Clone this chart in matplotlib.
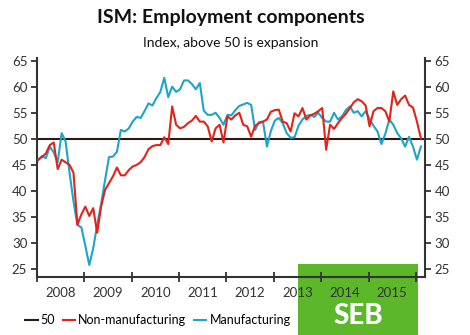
import matplotlib
matplotlib.use("Agg")
import matplotlib.pyplot as plt
from matplotlib.patches import Rectangle
from matplotlib.lines import Line2D
import numpy as np

plt.rcParams['font.family'] = ['Lato', 'DejaVu Sans']

start_year = 2008.02
non_manufacturing = [
    46.0, 46.5, 47.2, 48.8, 49.3, 44.2, 46.0, 45.5, 45.0, 43.5,
    33.5, 35.5, 37.0, 35.2, 36.7, 32.0, 37.0, 40.2, 41.5, 42.8,
    44.5, 43.0, 43.0, 44.0, 44.7, 45.0, 45.5, 46.5, 48.0, 48.6,
    48.8, 48.8, 50.3, 49.0, 56.2, 52.7, 52.0, 52.3, 53.0, 53.5,
    54.4, 53.3, 53.3, 52.4, 49.5, 52.0, 52.7, 49.3, 54.3, 53.7,
    54.5, 55.0, 52.7, 52.4, 50.4, 52.5, 53.0, 53.3, 53.7, 55.2,
    55.5, 55.6, 53.3, 53.0, 51.4, 54.9, 54.3, 55.9, 53.7, 54.5,
    54.8, 55.3, 55.9, 47.9, 52.7, 51.9, 53.0, 54.0, 54.8, 55.9,
    57.0, 57.6, 57.2, 56.4, 52.4, 55.3, 55.9, 55.9, 55.3, 53.3,
    59.1, 56.5, 57.6, 58.3, 56.5, 56.0, 53.3, 50.1,
]
manufacturing = [
    45.8, 46.7, 46.3, 48.5, 47.4, 45.5, 51.1, 49.5, 43.5, 38.0,
    33.5, 33.0, 29.5, 25.8, 29.0, 33.5, 37.5, 42.1, 46.5, 46.6,
    47.5, 51.7, 51.4, 52.0, 53.3, 54.2, 54.0, 55.3, 56.8, 56.4,
    57.8, 59.0, 61.7, 58.0, 60.0, 59.0, 59.5, 61.2, 61.2, 60.5,
    59.5, 60.7, 55.4, 54.6, 54.6, 55.0, 54.0, 52.7, 54.6, 54.5,
    55.5, 56.3, 56.6, 56.9, 56.5, 51.7, 53.2, 53.3, 48.5, 51.5,
    53.5, 54.0, 53.0, 51.1, 50.2, 50.3, 52.5, 53.7, 54.4, 54.6,
    54.2, 55.0, 54.0, 53.3, 53.3, 55.0, 53.7, 54.3, 55.5, 56.2,
    55.0, 55.3, 54.3, 55.3, 53.8, 52.5, 51.4, 49.0, 51.0, 53.7,
    52.7, 51.1, 50.1, 48.5, 50.4, 48.5, 46.0, 48.5,
]
years = [2008, 2009, 2010, 2011, 2012, 2013, 2014, 2015]
y_ticks = [25, 30, 35, 40, 45, 50, 55, 60, 65]
threshold = 50

title = "ISM: Employment components"
subtitle = "Index, above 50 is expansion"

W, H = 470, 335
fig = plt.figure(figsize=(W / 100, H / 100), dpi=100)
fig.patch.set_facecolor('white')

# SEB logo box (behind axes)
fig.patches.append(Rectangle((298 / W, 0), 120 / W, (H - 264) / H,
                             transform=fig.transFigure, facecolor='#5cb82a',
                             edgecolor='none', zorder=-5))
fig.text(358 / W, 1 - 316 / H, "SEB", color='white', fontsize=20,
         fontweight='black', ha='center', va='center', zorder=-4)

ax = fig.add_axes([37 / W, 1 - 277 / H, 388 / W, 219 / H])
ax.patch.set_alpha(0)

n = len(non_manufacturing)
x = start_year + np.arange(n) / 12.0
ax.axhline(threshold, color='#2b1a10', lw=1.5, zorder=1)
ax.plot(x, non_manufacturing, color='#e2231a', lw=1.5, zorder=3)
ax.plot(x, manufacturing, color='#1ea4c8', lw=1.5, zorder=2)

ax.set_ylim(23.5, 65.5)
ax.set_xlim(2008.0, 2016.19)
ax.set_yticks(y_ticks)
ax.tick_params(axis='y', which='both', left=True, right=True,
               labelleft=True, labelright=True, length=4, width=1.3,
               color='#333333', labelsize=9.5, labelcolor='#333333', pad=3)
ax.set_xticks([y for y in years] + [2016])
ax.set_xticklabels([])
ax.set_xticks([y + 0.5 for y in years], minor=True)
ax.set_xticklabels([str(y) for y in years], minor=True)
ax.tick_params(axis='x', which='major', direction='inout', length=7,
               width=1.3, color='#333333')
ax.tick_params(axis='x', which='minor', length=0, labelsize=9.5,
               labelcolor='#333333', pad=7)
for s in ['left', 'right', 'bottom']:
    ax.spines[s].set_color('#333333')
    ax.spines[s].set_linewidth(1.5)
ax.spines['top'].set_visible(False)

fig.text(231 / W, 1 - 18 / H, title, ha='center', va='center',
         fontsize=14, fontweight='bold', color='#111111')
fig.text(231 / W, 1 - 43 / H, subtitle, ha='center', va='center',
         fontsize=10, color='#111111')

handles = [Line2D([], [], color='#2b1a10', lw=1.5),
           Line2D([], [], color='#e2231a', lw=1.5),
           Line2D([], [], color='#1ea4c8', lw=1.5)]
labels = ["50", "Non-manufacturing", "Manufacturing"]
fig.legend(handles, labels, loc='center left', bbox_to_anchor=(20 / W, 1 - 320 / H),
           ncol=3, frameon=False, fontsize=9, handlelength=1.0,
           handletextpad=0.25, columnspacing=0.6, borderaxespad=0)

fig.savefig("out.png", dpi=100)
